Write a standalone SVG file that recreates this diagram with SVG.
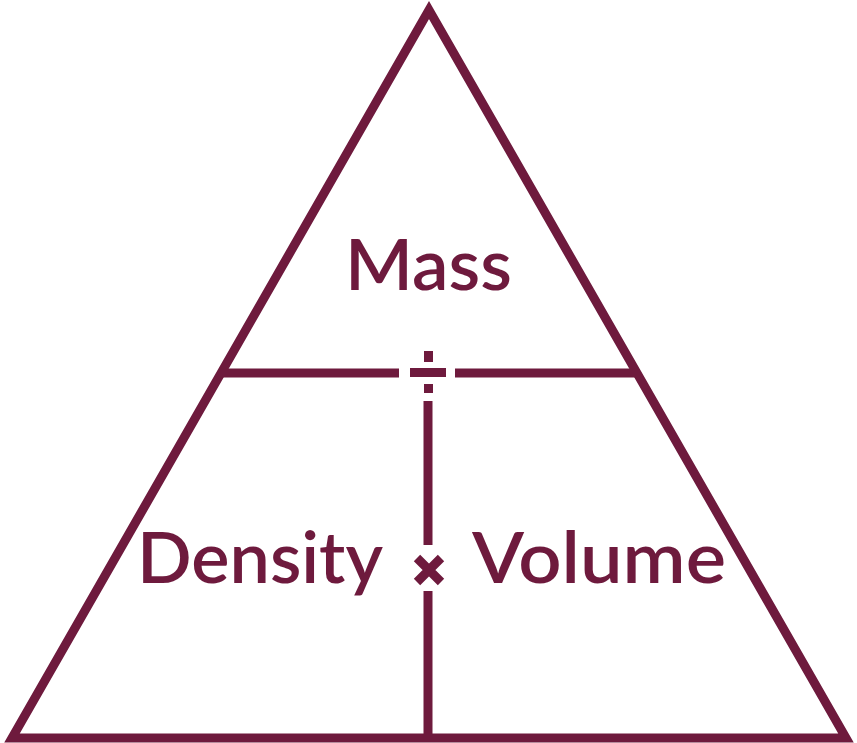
<svg xmlns="http://www.w3.org/2000/svg" width="857" height="743" viewBox="0 0 857 743">
<style>
.s{stroke:#6e1a3d;stroke-width:9;fill:none}
.t{fill:#6e1a3d;font-family:Lato,"Open Sans",sans-serif;font-weight:600;font-size:72px}
</style>
<rect width="857" height="743" fill="#fff"/>
<g id="connectors">
<polygon class="s" points="429,10 12,738 846,738" stroke-linejoin="miter"/>
<line class="s" x1="220" y1="373" x2="399" y2="373"/>
<line class="s" x1="455" y1="373" x2="636" y2="373"/>
<line class="s" x1="428" y1="401" x2="428" y2="545"/>
<line class="s" x1="428" y1="591" x2="428" y2="738"/>
</g>
<g id="divide" fill="#6e1a3d">
<rect x="424" y="351" width="9" height="11"/>
<rect x="410" y="368" width="36" height="9"/>
<rect x="424" y="384" width="9" height="9"/>
</g>
<g id="times">
<path class="s" d="M417,558 L441,582 M441,558 L417,582"/>
</g>
<g id="mass"><text class="t" x="345" y="290" textLength="167" lengthAdjust="spacingAndGlyphs">Mass</text></g>
<g id="density"><text class="t" x="137" y="583" textLength="246" lengthAdjust="spacingAndGlyphs">Density</text></g>
<g id="volume"><text class="t" x="472" y="583" textLength="254" lengthAdjust="spacingAndGlyphs">Volume</text></g>
</svg>
